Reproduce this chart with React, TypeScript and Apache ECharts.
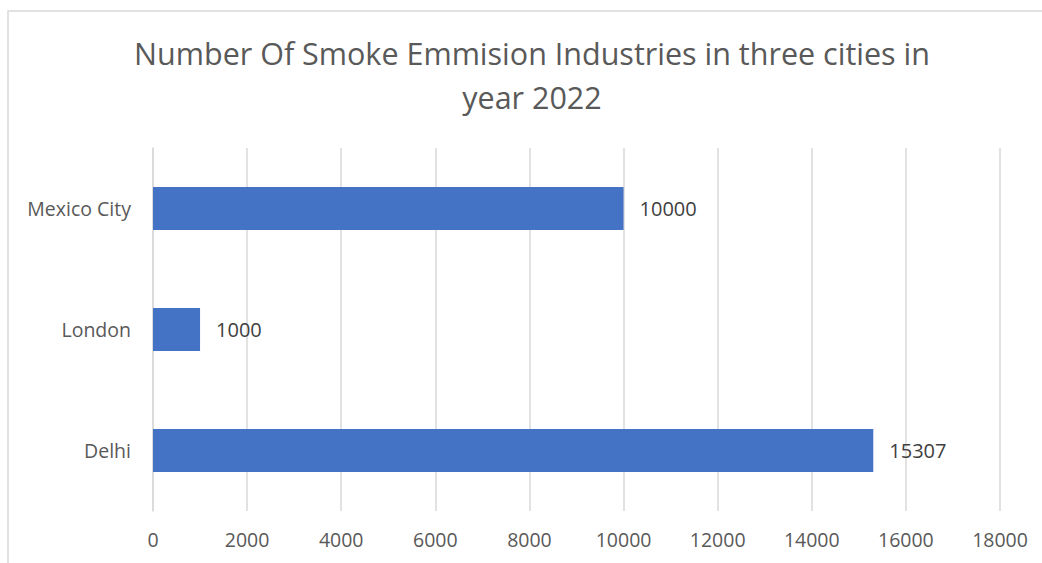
import React, { useEffect, useRef } from "react";
import * as echarts from "echarts";

const categories = ["Delhi", "London", "Mexico City"];
const values = [15307, 1000, 10000];
const titleLines = ["Number Of Smoke Emmision Industries in three cities in", "year 2022"];

export default function App() {
  const ref = useRef<HTMLDivElement>(null);
  useEffect(() => {
    if (!ref.current) return;
    const chart = echarts.init(ref.current, null, { renderer: "svg" });
    const font = "Open Sans";
    chart.setOption({
      animation: false,
      backgroundColor: "#ffffff",
      title: {
        text: titleLines.join("\n"),
        left: 527,
        top: 26,
        textAlign: "center",
        textStyle: {
          fontFamily: font,
          fontSize: 30.5,
          fontWeight: "normal",
          color: "#595959",
          lineHeight: 44,
        },
      },
      graphic: [
        {
          type: "rect",
          shape: { x: 8, y: 11, width: 1100, height: 700 },
          style: { fill: "none", stroke: "#d9d9d9", lineWidth: 1.5 },
          silent: true,
        },
      ],
      grid: { left: 153, right: 42, top: 148, bottom: 52, containLabel: false },
      xAxis: {
        type: "value",
        min: 0,
        max: 18000,
        interval: 2000,
        axisLine: { show: false },
        axisTick: { show: false },
        splitLine: { show: true, lineStyle: { color: "#d9d9d9", width: 1.5 } },
        axisLabel: {
          color: "#595959",
          fontSize: 19.5,
          fontFamily: font,
          margin: 18,
          formatter: (v: number) => String(v),
        },
      },
      yAxis: {
        type: "category",
        data: categories,
        axisLine: { show: true, lineStyle: { color: "#d9d9d9", width: 1.5 } },
        axisTick: { show: false },
        axisLabel: { color: "#595959", fontSize: 19.5, fontFamily: font, margin: 22 },
      },
      series: [
        {
          type: "bar",
          data: values,
          barWidth: 43,
          itemStyle: { color: "#4472C4" },
          label: {
            show: true,
            position: "right",
            distance: 16,
            color: "#404040",
            fontSize: 20,
            fontFamily: font,
          },
        },
      ],
    });
    return () => chart.dispose();
  }, []);
  return (
    <div
      ref={ref}
      style={{ position: "absolute", left: 0, top: 0, width: 1042, height: 563 }}
    />
  );
}
